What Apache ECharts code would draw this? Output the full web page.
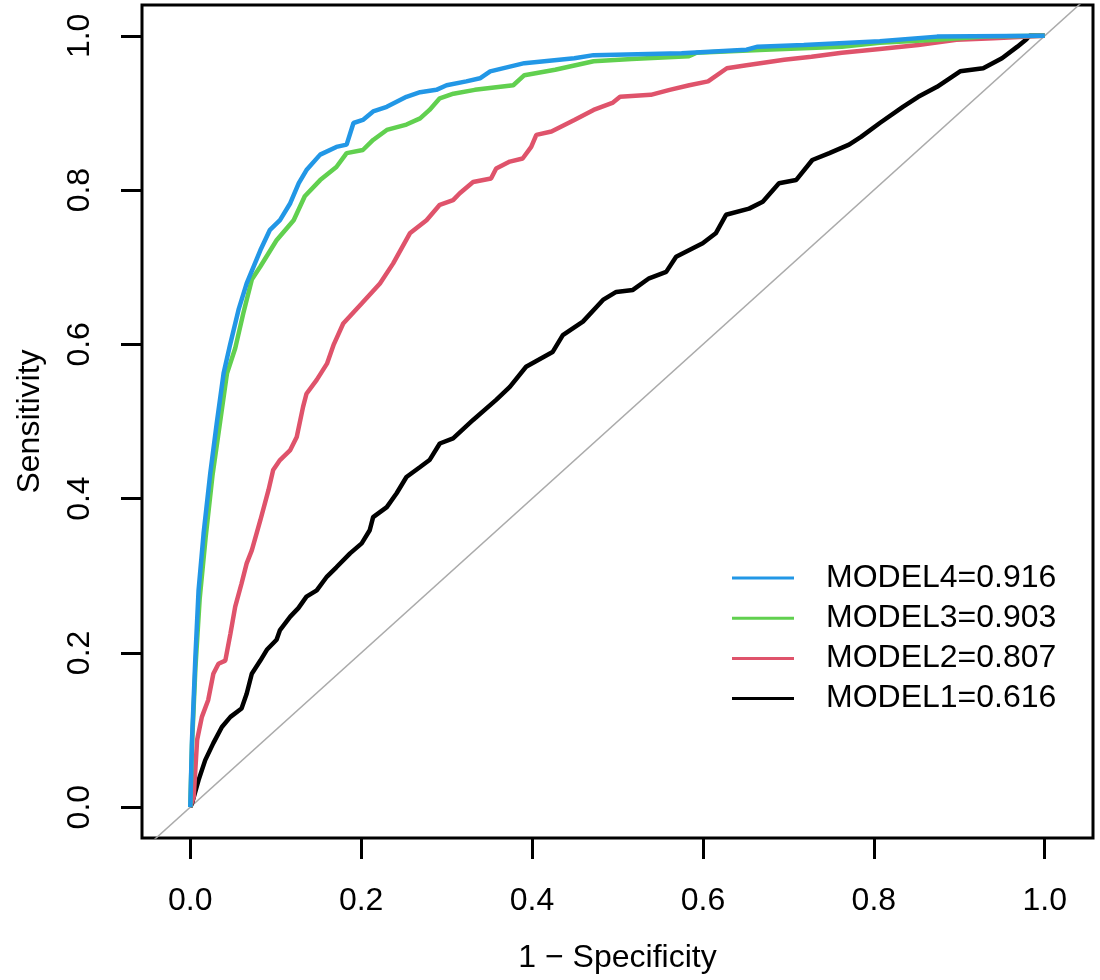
<!DOCTYPE html>
<html>
<head>
<meta charset="utf-8">
<script src="https://cdn.jsdelivr.net/npm/echarts@6/dist/echarts.min.js"></script>
<style>html,body{margin:0;padding:0;background:#fff;}#c{width:1100px;height:980px;}</style>
</head>
<body>
<div id="c"></div>
<script>
// ---- data ----
const xTicks = [0, 0.2, 0.4, 0.6, 0.8, 1.0];
const yTicks = [0, 0.2, 0.4, 0.6, 0.8, 1.0];
const modelNames = ['MODEL4', 'MODEL3', 'MODEL2', 'MODEL1'];
const modelAUC = ['0.916', '0.903', '0.807', '0.616'];
const modelColors = ['#2297E6', '#61D04F', '#DF536B', '#000000'];

const model4 = [[0,0],[0.002,0.087],[0.006,0.195],[0.0097,0.281],[0.0156,0.355],[0.0234,0.433],[0.031,0.498],[0.039,0.5625],[0.0467,0.600],[0.0565,0.645],[0.066,0.679],[0.082,0.722],[0.093,0.748],[0.105,0.761],[0.117,0.783],[0.127,0.809],[0.136,0.826],[0.152,0.846],[0.171,0.856],[0.183,0.859],[0.191,0.887],[0.202,0.891],[0.214,0.902],[0.230,0.908],[0.253,0.921],[0.269,0.927],[0.288,0.930],[0.300,0.936],[0.323,0.941],[0.339,0.945],[0.351,0.954],[0.391,0.9646],[0.4495,0.971],[0.472,0.975],[0.575,0.9775],[0.651,0.982],[0.664,0.986],[0.718,0.988],[0.807,0.993],[0.874,0.999],[1,1]];

const model3 = [[0,0],[0.002,0.08],[0.006,0.18],[0.011,0.27],[0.018,0.35],[0.026,0.43],[0.035,0.50],[0.043,0.5625],[0.0526,0.595],[0.062,0.640],[0.072,0.684],[0.082,0.701],[0.101,0.735],[0.121,0.761],[0.134,0.792],[0.152,0.813],[0.171,0.830],[0.183,0.848],[0.202,0.852],[0.214,0.865],[0.230,0.878],[0.253,0.885],[0.269,0.893],[0.280,0.904],[0.292,0.919],[0.308,0.925],[0.333,0.930],[0.378,0.936],[0.391,0.949],[0.427,0.956],[0.472,0.967],[0.5166,0.970],[0.5836,0.9735],[0.5926,0.978],[0.673,0.982],[0.7625,0.986],[0.807,0.991],[0.874,0.995],[0.93,0.999],[1,1]];

const model2 = [[0,0],[0.004,0.013],[0.008,0.087],[0.0136,0.117],[0.021,0.139],[0.027,0.173],[0.033,0.186],[0.041,0.19],[0.047,0.225],[0.0526,0.260],[0.060,0.290],[0.066,0.316],[0.072,0.333],[0.082,0.372],[0.0915,0.411],[0.097,0.437],[0.105,0.450],[0.117,0.463],[0.1246,0.480],[0.132,0.519],[0.136,0.536],[0.148,0.554],[0.160,0.575],[0.168,0.600],[0.179,0.627],[0.2006,0.653],[0.222,0.679],[0.2375,0.705],[0.257,0.744],[0.2765,0.761],[0.292,0.781],[0.3076,0.787],[0.3154,0.796],[0.331,0.8106],[0.352,0.815],[0.358,0.828],[0.374,0.837],[0.389,0.841],[0.399,0.856],[0.405,0.8716],[0.4227,0.876],[0.4495,0.891],[0.472,0.904],[0.494,0.913],[0.503,0.921],[0.539,0.9235],[0.561,0.930],[0.584,0.936],[0.606,0.941],[0.628,0.958],[0.651,0.962],[0.695,0.969],[0.727,0.973],[0.7625,0.978],[0.807,0.983],[0.852,0.988],[0.8966,0.995],[0.94,0.997],[1,1]];

const model1 = [[0,0],[0.002,0.005],[0.0097,0.035],[0.0175,0.061],[0.027,0.083],[0.037,0.104],[0.047,0.117],[0.060,0.128],[0.066,0.147],[0.072,0.173],[0.082,0.19],[0.0896,0.204],[0.101,0.217],[0.105,0.2296],[0.117,0.247],[0.1265,0.258],[0.136,0.273],[0.148,0.281],[0.160,0.299],[0.171,0.311],[0.187,0.329],[0.2006,0.342],[0.210,0.359],[0.214,0.376],[0.230,0.389],[0.2415,0.407],[0.253,0.428],[0.269,0.441],[0.280,0.450],[0.292,0.4715],[0.3076,0.478],[0.331,0.502],[0.358,0.528],[0.374,0.545],[0.393,0.571],[0.424,0.590],[0.436,0.612],[0.4595,0.6295],[0.483,0.6576],[0.4985,0.668],[0.518,0.6706],[0.537,0.6857],[0.557,0.694],[0.5686,0.7137],[0.5997,0.731],[0.615,0.744],[0.627,0.768],[0.654,0.776],[0.670,0.785],[0.689,0.809],[0.709,0.813],[0.728,0.839],[0.748,0.848],[0.771,0.859],[0.785,0.869],[0.807,0.887],[0.834,0.908],[0.852,0.921],[0.874,0.934],[0.901,0.954],[0.928,0.958],[0.950,0.971],[0.968,0.986],[0.979,0.996],[0.982,1.0],[1,1]];

const diagonal = [[-0.2,-0.2],[1.2,1.2]];
const modelData = [model4, model3, model2, model1];

// ---- chart ----
const FONT = "'Liberation Sans', Arial, Helvetica, sans-serif";
const chart = echarts.init(document.getElementById('c'));

const curveSeries = [];
// draw MODEL1 first so MODEL4 ends on top
for (let i = modelData.length - 1; i >= 0; i--) {
  curveSeries.push({
    name: modelNames[i] + '=' + modelAUC[i],
    type: 'line',
    data: modelData[i],
    showSymbol: false,
    symbol: 'none',
    lineStyle: { color: modelColors[i], width: 4.5 },
    itemStyle: { color: modelColors[i] },
    silent: true,
    z: 3 + (modelData.length - i)
  });
}

const legendGraphics = [];
const legendTop = 578, legendStep = 40.2;
modelNames.forEach((n, i) => {
  const y = legendTop + i * legendStep;
  legendGraphics.push({
    type: 'line', silent: true,
    shape: { x1: 732, y1: y, x2: 794, y2: y },
    style: { stroke: modelColors[i], lineWidth: 3 }
  });
  legendGraphics.push({
    type: 'text', silent: true,
    x: 826, y: y,
    style: { text: n + '=' + modelAUC[i], fontSize: 32, fontFamily: FONT, fill: '#000', verticalAlign: 'middle', align: 'left' }
  });
});

const option = {
  animation: false,
  backgroundColor: '#fff',
  grid: { left: 142, right: 7, top: 5, bottom: 142, show: true, borderColor: '#000', borderWidth: 3, backgroundColor: 'transparent' },
  xAxis: {
    type: 'value', min: -0.0565, max: 1.0565,
    splitLine: { show: false },
    axisLine: { show: false, onZero: false },
    axisTick: { show: true, length: 21, lineStyle: { color: '#000', width: 3 }, customValues: xTicks },
    axisLabel: { customValues: xTicks, formatter: v => v.toFixed(1), fontSize: 32, fontFamily: FONT, color: '#000', margin: 47 },
    name: '1 \u2212 Specificity', nameLocation: 'middle', nameGap: 104,
    nameTextStyle: { fontSize: 32, fontFamily: FONT, color: '#000' }
  },
  yAxis: {
    type: 'value', min: -0.04, max: 1.04,
    splitLine: { show: false },
    axisLine: { show: false, onZero: false },
    axisTick: { show: true, length: 21, lineStyle: { color: '#000', width: 3 }, customValues: yTicks },
    axisLabel: { customValues: yTicks, formatter: v => v.toFixed(1), fontSize: 32, fontFamily: FONT, color: '#000', margin: 46, rotate: 90 },
    name: 'Sensitivity', nameLocation: 'middle', nameGap: 96, nameRotate: 90,
    nameTextStyle: { fontSize: 32, fontFamily: FONT, color: '#000' }
  },
  series: [{
    name: 'diag', type: 'line', data: diagonal, showSymbol: false, symbol: 'none', silent: true,
    lineStyle: { color: '#ababab', width: 1.5 }, z: 2
  }].concat(curveSeries),
  graphic: legendGraphics
};
chart.setOption(option);
</script>
</body>
</html>
